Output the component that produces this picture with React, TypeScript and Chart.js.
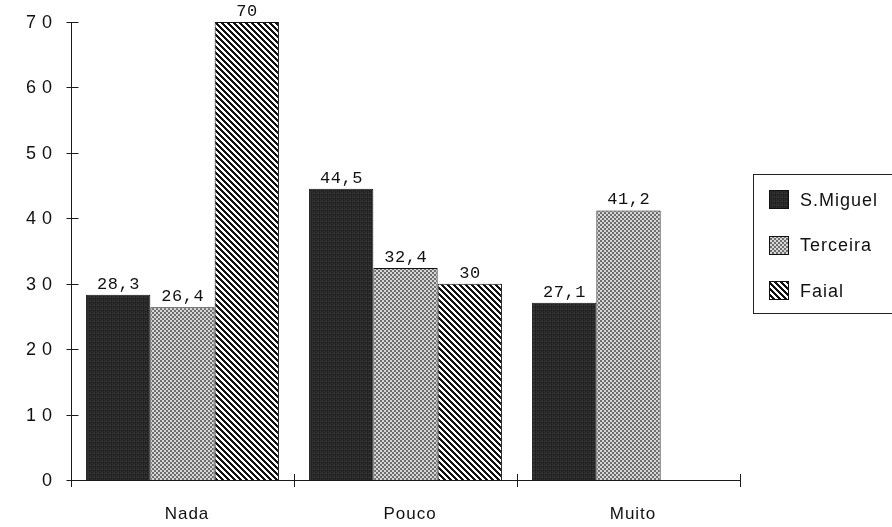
import React, { useEffect, useRef } from "react";
import { Chart, registerables } from "chart.js";

Chart.register(...registerables);

const categories = ["Nada", "Pouco", "Muito"];
const seriesNames = ["S.Miguel", "Terceira", "Faial"];
const sMiguel = [28.3, 44.5, 27.1];
const terceira = [26.4, 32.4, 41.2];
const faial: (number | null)[] = [70, 30, null];
const yTicks = [0, 10, 20, 30, 40, 50, 60, 70];
const valueLabels: (string | null)[][] = [
  ["28,3", "44,5", "27,1"],
  ["26,4", "32,4", "41,2"],
  ["70", "30", null],
];

function tile(size: number, fn: (x: number, y: number) => string): CanvasPattern | string {
  const c = document.createElement("canvas");
  c.width = size;
  c.height = size;
  const g = c.getContext("2d");
  if (!g) return "#888";
  for (let y = 0; y < size; y++) {
    for (let x = 0; x < size; x++) {
      g.fillStyle = fn(x, y);
      g.fillRect(x, y, 1, 1);
    }
  }
  const p = g.createPattern(c, "repeat");
  return p || "#888";
}

function makePatterns() {
  const darkShades = ["#2a2a2a", "#1e1e1e", "#333333", "#262626"];
  const dark = tile(4, (x, y) => darkShades[(x * 3 + y * 2 + ((x * y) % 3)) % 4]);
  const grey = tile(4, (x, y) => ((Math.floor(x / 2) + Math.floor(y / 2)) % 2 === 0 ? "#6f6f6f" : "#d6d6d6"));
  const stripes = tile(6, (x, y) => (((x - y) % 6 + 6) % 6 < 3 ? "#111111" : "#ffffff"));
  return [dark, grey, stripes];
}

function drawSpaced(
  ctx: CanvasRenderingContext2D,
  text: string,
  x: number,
  y: number,
  align: "left" | "right" | "center",
  spacing: number
) {
  (ctx as any).letterSpacing = spacing + "px";
  ctx.textAlign = "left";
  const w = ctx.measureText(text).width - spacing;
  let sx = x;
  if (align === "right") sx = x - w;
  else if (align === "center") sx = x - w / 2;
  ctx.fillText(text, sx, y);
  (ctx as any).letterSpacing = "0px";
}

const decorPlugin = {
  id: "decor",
  afterDraw(chart: any) {
    const ctx: CanvasRenderingContext2D = chart.ctx;
    const area = chart.chartArea;
    const xs = chart.scales.x;
    const ys = chart.scales.y;
    ctx.save();
    ctx.strokeStyle = "#1a1a1a";
    ctx.lineWidth = 1;
    ctx.fillStyle = "#111111";

    // y ticks crossing the axis
    const ax = Math.round(area.left) + 0.5;
    ctx.beginPath();
    yTicks.forEach((v) => {
      const py = Math.round(ys.getPixelForValue(v)) + 0.5;
      ctx.moveTo(ax - 5, py);
      ctx.lineTo(ax + 7, py);
    });
    // axis extension below
    ctx.moveTo(ax, area.bottom);
    ctx.lineTo(ax, area.bottom + 7);
    // x category boundaries
    for (let i = 0; i <= categories.length; i++) {
      const px = Math.round(xs.getPixelForValue(i - 0.5)) + 0.5;
      ctx.moveTo(px, area.bottom - 6);
      ctx.lineTo(px, area.bottom + 7);
    }
    ctx.stroke();

    // y tick labels
    ctx.font = '18px "Liberation Sans", Arial, sans-serif';
    ctx.textBaseline = "middle";
    yTicks.forEach((v) => {
      const py = ys.getPixelForValue(v);
      drawSpaced(ctx, String(v), area.left - 19, py + 1, "right", 6);
    });

    // x category labels
    ctx.font = '17px "Liberation Sans", Arial, sans-serif';
    ctx.textBaseline = "alphabetic";
    categories.forEach((c, i) => {
      const px = xs.getPixelForValue(i);
      drawSpaced(ctx, c, px + 4, area.bottom + 39, "center", 1);
    });

    // value labels
    ctx.font = '17px "Liberation Mono", "Courier New", monospace';
    ctx.textBaseline = "alphabetic";
    chart.data.datasets.forEach((ds: any, di: number) => {
      const meta = chart.getDatasetMeta(di);
      meta.data.forEach((bar: any, j: number) => {
        const lab = valueLabels[di][j];
        if (lab == null || ds.data[j] == null) return;
        drawSpaced(ctx, lab, bar.x, bar.y - 6, "center", 0.5);
      });
    });

    // legend
    const lx = area.right + 13;
    const cy = (area.top + area.bottom) / 2;
    const top = cy - 77;
    const boxH = 139;
    ctx.strokeStyle = "#222222";
    ctx.strokeRect(Math.round(lx) + 0.5, Math.round(top) + 0.5, 200, boxH);
    ctx.font = '18px "Liberation Sans", Arial, sans-serif';
    ctx.textBaseline = "middle";
    chart.data.datasets.forEach((ds: any, di: number) => {
      const rowY = top + 26 + di * 45.5;
      const sx = Math.round(lx + 16);
      const sy = Math.round(rowY - 10);
      ctx.fillStyle = ds.backgroundColor;
      ctx.fillRect(sx, sy, 20, 19);
      ctx.strokeStyle = "#111111";
      ctx.strokeRect(sx + 0.5, sy + 0.5, 19, 18);
      ctx.fillStyle = "#111111";
      drawSpaced(ctx, ds.label, lx + 47, rowY + 1, "left", 1);
    });
    ctx.restore();
  },
};

export default function App() {
  const ref = useRef<HTMLCanvasElement | null>(null);
  useEffect(() => {
    if (!ref.current) return;
    const pats = makePatterns();
    const chart = new Chart(ref.current, {
      type: "bar",
      data: {
        labels: categories,
        datasets: [
          { label: seriesNames[0], data: sMiguel, backgroundColor: pats[0] as any, borderColor: "#111111", borderWidth: 1 },
          { label: seriesNames[1], data: terceira, backgroundColor: pats[1] as any, borderColor: "#111111", borderWidth: 1 },
          { label: seriesNames[2], data: faial as any, backgroundColor: pats[2] as any, borderColor: "#111111", borderWidth: 1 },
        ],
      },
      options: {
        responsive: false,
        animation: false,
        layout: { padding: { left: 71, right: 152, top: 22, bottom: 47 } },
        plugins: { legend: { display: false }, tooltip: { enabled: false } },
        datasets: { bar: { barPercentage: 1, categoryPercentage: 0.865 } },
        scales: {
          x: {
            grid: { display: false, drawTicks: false },
            ticks: { display: false },
            border: { display: true, color: "#1a1a1a", width: 1 },
          },
          y: {
            min: 0,
            max: 70,
            grid: { display: false, drawTicks: false },
            ticks: { display: false, stepSize: 10 },
            border: { display: true, color: "#1a1a1a", width: 1 },
          },
        },
      },
      plugins: [decorPlugin],
    });
    return () => chart.destroy();
  }, []);
  return (
    <div style={{ position: "fixed", left: 0, top: 0, width: 892, height: 527, background: "#ffffff" }}>
      <canvas ref={ref} width={892} height={527} style={{ display: "block" }} />
    </div>
  );
}
